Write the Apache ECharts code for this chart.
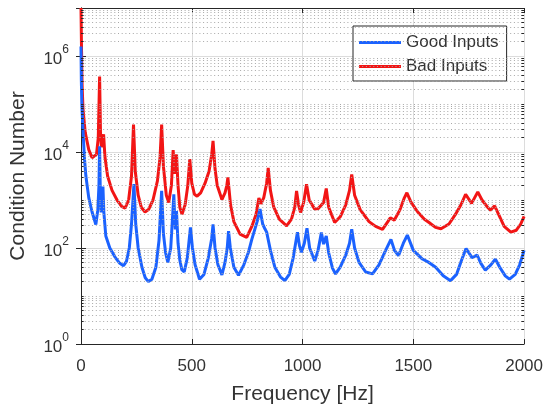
<!DOCTYPE html>
<html>
<head>
<meta charset="utf-8">
<script src="https://cdn.jsdelivr.net/npm/echarts@6/dist/echarts.min.js"></script>
<style>
html,body{margin:0;padding:0;background:#fff;}
#chart{width:546px;height:410px;}
</style>
</head>
<body>
<div id="chart"></div>
<script>
// Frequencies (Hz) and condition-number exponents (log10)
var goodFreq = [0,1.5,4,8,15,22,35,50,67,76,81,84,87,91,96,99,103,112,130,155,175,192,205,218,228,239,247,258,275,290,304,320,338,352,364,372,382,392,405,414,419,423,426,431,438,446,455,466,480,494,503,515,535,555,575,590,596,605,618,636,650,660,666,674,690,711,735,755,771,795,808,820,830,838,855,875,900,920,940,958,977,986,995,1008,1020,1032,1055,1070,1085,1095,1107,1118,1135,1149,1170,1195,1212,1222,1235,1255,1285,1316,1345,1375,1399,1415,1433,1455,1473,1500,1541,1570,1601,1635,1668,1695,1718,1738,1765,1788,1805,1825,1850,1870,1890,1915,1934,1960,1980,2000];
var goodExp = [6.20,5.5,4.95,4.55,3.9,3.5,3.05,2.75,2.49,2.8,3.3,4.12,3.2,2.74,3.0,3.28,2.75,2.25,2.0,1.8,1.68,1.63,1.72,2.0,2.5,3.33,2.5,2.0,1.6,1.38,1.30,1.35,1.6,2.15,3.19,2.3,1.9,1.70,2.0,2.7,3.12,2.6,2.39,2.77,2.1,1.75,1.55,1.5,1.8,2.43,2.0,1.65,1.35,1.45,1.8,2.2,2.49,2.0,1.65,1.44,1.7,2.0,2.35,2.0,1.6,1.43,1.65,1.9,2.18,2.55,2.81,2.5,2.4,2.33,1.95,1.6,1.4,1.32,1.45,1.8,2.33,2.05,1.91,2.1,2.41,2.0,1.73,1.95,2.32,2.08,2.25,1.9,1.58,1.46,1.6,1.85,2.1,2.39,2.0,1.7,1.5,1.46,1.65,1.95,2.18,1.95,1.84,2.1,2.27,1.95,1.77,1.7,1.60,1.42,1.32,1.45,1.75,1.99,1.80,1.85,1.68,1.54,1.65,1.77,1.6,1.42,1.35,1.45,1.65,1.95];
var badFreq = [0,2.5,5,9,19,35,50,57,70,78,84,88,92,97,102,108,120,140,165,185,199,215,228,237,245,258,272,289,305,325,345,357,364,372,385,396,408,416,421,424,431,438,446,456,470,482,491,500,512,524,540,560,578,590,596,605,615,636,650,658,663,675,690,718,748,771,790,803,812,825,838,845,855,870,895,928,950,965,973,982,991,1005,1018,1030,1055,1070,1082,1095,1107,1118,1145,1170,1195,1212,1222,1235,1260,1300,1330,1361,1385,1396,1414,1440,1460,1471,1490,1520,1550,1571,1600,1625,1661,1690,1715,1736,1763,1791,1810,1835,1848,1867,1885,1910,1940,1965,1985,2000];
var badExp = [7.0,6.1,5.4,4.9,4.41,4.05,3.88,3.85,3.95,4.3,5.57,4.4,4.1,4.2,4.37,3.9,3.5,3.2,2.98,2.86,2.83,3.0,3.5,4.57,3.6,3.1,2.85,2.75,2.8,3.0,3.4,3.9,4.57,3.7,3.1,2.95,3.3,4.04,3.6,3.55,3.95,3.3,2.85,2.70,2.9,3.3,3.85,3.35,3.12,3.08,3.15,3.35,3.6,3.95,4.23,3.65,3.3,3.01,3.15,3.3,3.47,2.9,2.55,2.29,2.22,2.45,2.7,3.04,2.92,3.05,3.35,3.67,3.2,2.85,2.6,2.46,2.6,2.85,3.19,2.9,2.74,2.95,3.33,3.0,2.81,2.82,2.88,2.95,3.24,2.85,2.53,2.65,2.9,3.2,3.53,3.1,2.8,2.55,2.45,2.39,2.55,2.63,2.58,2.8,3.05,3.15,2.95,2.75,2.6,2.53,2.43,2.40,2.5,2.7,2.9,3.12,2.93,3.17,3.0,2.85,2.79,2.88,2.7,2.45,2.33,2.37,2.5,2.66];
var seriesNames = ['Good Inputs', 'Bad Inputs'];

function toPairs(fs, es) {
  var out = [];
  for (var i = 0; i < fs.length; i++) out.push([fs[i], Math.pow(10, es[i])]);
  return out;
}

// minor log grid positions (2..9 x 10^k and odd decades)
var minorGrid = [];
var minorTicks = [];
for (var k = 0; k < 7; k++) {
  for (var m = 2; m <= 9; m++) {
    var v = m * Math.pow(10, k);
    minorGrid.push({yAxis: v});
    minorTicks.push([{coord: [0, v]}, {coord: [12, v]}]);
    minorTicks.push([{coord: [1988, v]}, {coord: [2000, v]}]);
  }
  if (k % 2 === 1) {
    var d = Math.pow(10, k);
    minorGrid.push({yAxis: d});
    minorTicks.push([{coord: [0, d]}, {coord: [12, d]}]);
    minorTicks.push([{coord: [1988, d]}, {coord: [2000, d]}]);
  }
}

var FONT = 'Liberation Sans, Arial, Helvetica, sans-serif';
var TXT = '#333333';
var AX = '#262626';

var chart = echarts.init(document.getElementById('chart'), null, {renderer: 'canvas'});
chart.setOption({
  animation: false,
  backgroundColor: '#ffffff',
  grid: {left: 80, right: 20, top: 8, bottom: 65, containLabel: false},
  legend: {
    orient: 'vertical',
    left: 353, top: 26,
    padding: [8, 8, 6, 6],
    itemGap: 7,
    itemWidth: 42, itemHeight: 3,
    icon: 'rect',
    borderColor: AX, borderWidth: 1,
    backgroundColor: '#ffffff',
    textStyle: {fontFamily: FONT, fontSize: 17, color: TXT},
    data: seriesNames
  },
  xAxis: [{
    type: 'value', min: 0, max: 2000, interval: 500,
    name: 'Frequency [Hz]', nameLocation: 'middle', nameGap: 40,
    nameTextStyle: {fontFamily: FONT, fontSize: 21, color: TXT},
    axisLine: {show: true, lineStyle: {color: AX, width: 1}},
    axisTick: {show: true, inside: true, length: 5, lineStyle: {color: AX}},
    axisLabel: {fontFamily: FONT, fontSize: 17, color: TXT, margin: 14,
      formatter: function (v) { return String(v); }},
    splitLine: {show: true, lineStyle: {color: '#dcdcdc', width: 1}}
  }, {
    type: 'value', min: 0, max: 2000, interval: 500, position: 'top',
    axisLine: {show: true, lineStyle: {color: AX, width: 1}},
    axisTick: {show: true, inside: true, length: 5, lineStyle: {color: AX}},
    axisLabel: {show: false}, splitLine: {show: false}
  }],
  yAxis: [{
    type: 'log', logBase: 10, min: 1, max: 1e7, interval: 2,
    name: 'Condition Number', nameLocation: 'middle', nameGap: 52,
    nameTextStyle: {fontFamily: FONT, fontSize: 21, color: TXT},
    axisLine: {show: true, lineStyle: {color: AX, width: 1}},
    axisTick: {show: true, inside: true, length: 5, lineStyle: {color: AX}},
    axisLabel: {
      margin: 12,
      showMaxLabel: false,
      formatter: function (v) {
        var e = Math.round(Math.log(v) / Math.LN10);
        if (e % 2 !== 0) return '';
        return '{b|10}{s|' + e + '}';
      },
      rich: {
        b: {fontFamily: FONT, fontSize: 17, color: TXT, lineHeight: 24, verticalAlign: 'bottom'},
        s: {fontFamily: FONT, fontSize: 12, color: TXT, lineHeight: 12, verticalAlign: 'top'}
      }
    },
    splitLine: {show: true, lineStyle: {color: '#dcdcdc', width: 1}}
  }, {
    type: 'log', logBase: 10, min: 1, max: 1e7, interval: 2, position: 'right',
    axisLine: {show: true, lineStyle: {color: AX, width: 1}},
    axisTick: {show: true, inside: true, length: 5, lineStyle: {color: AX}},
    axisLabel: {show: false}, splitLine: {show: false}
  }],
  series: [{
    name: 'minor-grid', type: 'line', data: [[0, 1]], silent: true, z: 1,
    symbol: 'none', lineStyle: {opacity: 0},
    markLine: {
      silent: true, symbol: ['none', 'none'], animation: false,
      label: {show: false},
      lineStyle: {type: [1, 2.7], color: '#a8a8a8', width: 1},
      emphasis: {disabled: true},
      data: minorGrid
    }
  }, {
    name: 'minor-ticks', type: 'line', data: [[0, 1]], silent: true, z: 5,
    symbol: 'none', lineStyle: {opacity: 0},
    markLine: {
      silent: true, symbol: ['none', 'none'], animation: false,
      label: {show: false},
      lineStyle: {type: 'solid', color: AX, width: 1},
      emphasis: {disabled: true},
      data: minorTicks
    }
  }, {
    name: seriesNames[0], type: 'line', z: 4,
    data: toPairs(goodFreq, goodExp),
    showSymbol: false, symbol: 'none',
    color: '#1b62ff',
    lineStyle: {color: '#1b62ff', width: 3}
  }, {
    name: seriesNames[1], type: 'line', z: 3,
    data: toPairs(badFreq, badExp),
    showSymbol: false, symbol: 'none',
    color: '#f21515',
    lineStyle: {color: '#f21515', width: 3}
  }]
});
</script>
</body>
</html>
